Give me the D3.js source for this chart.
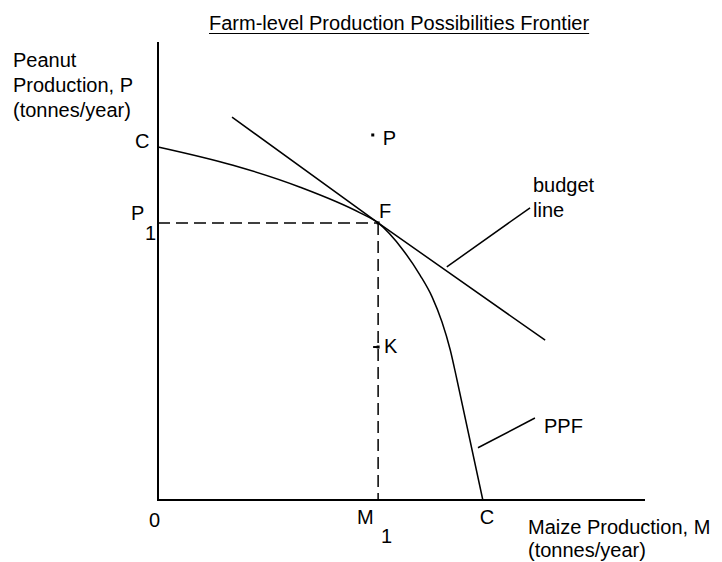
<!DOCTYPE html>
<html>
<head>
  <meta charset="utf-8">
  <title>Farm-level Production Possibilities Frontier</title>
  <script src="https://d3js.org/d3.v7.min.js"></script>
  <style>
    body { margin: 0; background: #fff; }
    text { font-family: "Liberation Sans", Arial, sans-serif; font-size: 20px; fill: #000; }
    .axis { stroke: #000; stroke-width: 2px; fill: none; }
    .curve { stroke: #000; stroke-width: 1.5px; fill: none; }
    .dash { stroke: #000; stroke-width: 1.5px; stroke-dasharray: 12,6; fill: none; }
  </style>
</head>
<body>
  <script>
    // values, in axis units (0-100 on both axes)
    const ppfM = [0, 15.4, 29.2, 41.5, 45.2, 50.3, 53.8, 56.3, 58.3, 60.0, 61.4, 66.7];
    const ppfP = [77.1, 73.1, 68.3, 62.7, 60.5, 54.6, 49.1, 44.3, 38.9, 32.8, 26.2, 0];
    const budgetM = [15.2, 45.2, 79.5];
    const budgetP = [83.6, 60.5, 34.9];
    const pointNames = ["P", "F", "K"];
    const pointM = [44.1, 45.2, 45.2];
    const pointP = [79.7, 60.5, 33.4];
    const m1 = 45.2, p1 = 60.5, cMaize = 66.7, cPeanut = 77.1;
    const budgetLeader = [[59.3, 50.9], [76.4, 63.8]];
    const ppfLeader = [[65.7, 11.4], [77.4, 17.9]];

    const width = 722, height = 562;
    const svg = d3.create("svg")
        .attr("width", width)
        .attr("height", height)
        .attr("viewBox", [0, 0, width, height]);

    const x = d3.scaleLinear().domain([0, 100]).range([158, 645]);
    const y = d3.scaleLinear().domain([0, 100]).range([500, 42]);

    // title, underlined
    const title = svg.append("text")
        .attr("x", 209).attr("y", 30)
        .text("Farm-level Production Possibilities Frontier");
    document.body.appendChild(svg.node());
    const tw = title.node().getComputedTextLength();
    svg.append("line")
        .attr("x1", 209).attr("x2", 209 + tw)
        .attr("y1", 33.5).attr("y2", 33.5)
        .attr("stroke", "#000").attr("stroke-width", 1);

    // axes
    svg.append("path")
        .classed("axis", true)
        .attr("d", `M${x(0)},${y(100)} V${y(0)} H${x(100)}`);

    // dashed guides to F
    svg.append("path")
        .classed("dash", true)
        .attr("d", `M${x(0)},${y(p1)} H${x(m1)}`);
    svg.append("path")
        .classed("dash", true)
        .attr("d", `M${x(m1)},${y(p1)} V${y(0)}`);

    // PPF curve
    const ppf = ppfM.map((m, i) => [m, ppfP[i]]);
    const line = d3.line().x(d => x(d[0])).y(d => y(d[1]));
    svg.append("path")
        .classed("curve", true)
        .attr("d", line.curve(d3.curveMonotoneX)(ppf));

    // budget line
    const budget = budgetM.map((m, i) => [m, budgetP[i]]);
    svg.append("path")
        .classed("curve", true)
        .attr("d", d3.line().x(d => x(d[0])).y(d => y(d[1]))(budget));

    // leader lines for labels
    [budgetLeader, ppfLeader].forEach(l => {
      svg.append("path")
          .classed("curve", true)
          .attr("stroke-width", 1.2)
          .attr("d", d3.line().x(d => x(d[0])).y(d => y(d[1]))(l));
    });

    // points
    const pts = pointNames.map((n, i) => ({ name: n, m: pointM[i], p: pointP[i] }));
    svg.selectAll(".pt")
        .data(pts)
        .join("rect")
        .attr("x", d => x(d.m) - 1.5)
        .attr("y", d => y(d.p) - 1.5)
        .attr("width", 3).attr("height", 3)
        .attr("fill", "#000");
    // small tick at K
    const k = pts[2];
    svg.append("line")
        .attr("x1", x(k.m) - 5).attr("x2", x(k.m))
        .attr("y1", y(k.p)).attr("y2", y(k.p))
        .attr("stroke", "#000").attr("stroke-width", 2);

    const labelOffset = { P: [10, 10], F: [1, -5], K: [6, 6] };
    svg.selectAll(".ptlabel")
        .data(pts)
        .join("text")
        .attr("x", d => x(d.m) + labelOffset[d.name][0])
        .attr("y", d => y(d.p) + labelOffset[d.name][1])
        .text(d => d.name);

    // y axis title
    const yTitle = ["Peanut", "Production, P", "(tonnes/year)"];
    svg.selectAll(".ytitle")
        .data(yTitle)
        .join("text")
        .attr("x", 13)
        .attr("y", (d, i) => 67 + i * 25)
        .text(d => d);

    // x axis title
    const xTitle = ["Maize Production, M", "(tonnes/year)"];
    svg.selectAll(".xtitle")
        .data(xTitle)
        .join("text")
        .attr("x", 528)
        .attr("y", (d, i) => 534 + i * 23)
        .text(d => d);

    // axis labels
    svg.append("text").attr("x", x(0) - 9).attr("y", 527).text("0");
    svg.append("text").attr("x", x(m1) - 21).attr("y", 524).text("M");
    svg.append("text").attr("x", x(m1) + 3).attr("y", 543).text("1");
    svg.append("text").attr("x", x(cMaize) - 3).attr("y", 524).text("C");
    svg.append("text").attr("x", x(0) - 23).attr("y", y(cPeanut) + 1).text("C");
    svg.append("text").attr("x", x(0) - 27).attr("y", y(p1) - 3).text("P");
    svg.append("text").attr("x", x(0) - 13).attr("y", y(p1) + 17).text("1");

    // label text for lines
    svg.append("text").attr("x", 533).attr("y", 192).text("budget");
    svg.append("text").attr("x", 533).attr("y", 217).text("line");
    svg.append("text").attr("x", 544).attr("y", 433).text("PPF");
  </script>
</body>
</html>
